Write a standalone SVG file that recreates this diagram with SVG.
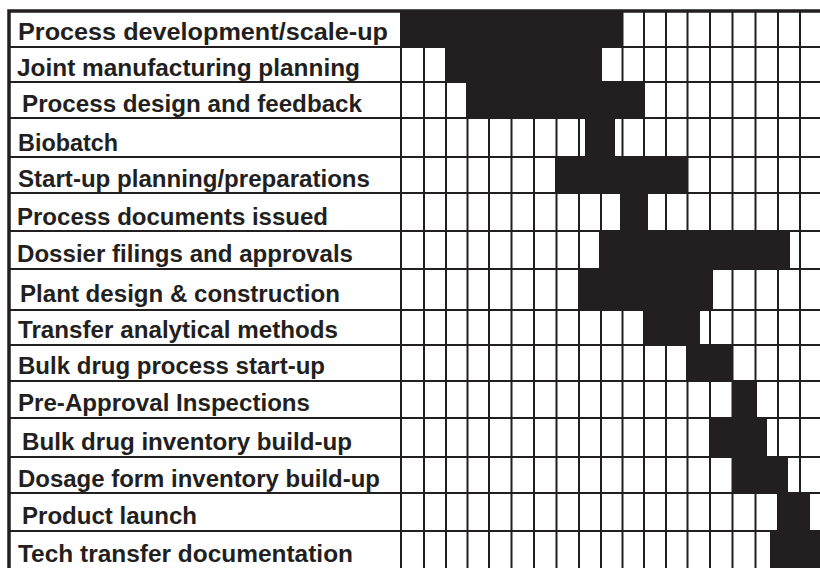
<svg xmlns="http://www.w3.org/2000/svg" width="820" height="568" viewBox="0 0 820 568">
<style>
.lbl{font-family:"Liberation Sans",Arial,sans-serif;font-weight:bold;font-size:23.5px;fill:#231f20}
.bar{fill:#231f20}
.g{stroke:#231f20;stroke-width:2;fill:none}
.b{stroke:#231f20;stroke-width:3.5;fill:none}
</style>
<rect width="820" height="568" fill="#ffffff"/>
<g id="grid">
<path class="g" d="M10 47H820M10 82H820M10 118H820M10 157H820M10 193H820M10 231H820M10 269H820M10 310H820M10 345H820M10 381H820M10 418H820M10 457H820M10 493H820M10 531H820"/>
<path class="g" d="M401 11V568M424 11V568M446 11V568M467.5 11V568M489 11V568M511.5 11V568M534 11V568M556.5 11V568M579 11V568M601 11V568M622.5 11V568M644 11V568M666 11V568M687.5 11V568M710 11V568M732.5 11V568M755.5 11V568M778 11V568M800 11V568"/>
<path class="b" d="M9 568V11H820"/>
</g>
<g id="row1"><rect class="bar" x="401" y="11" width="221" height="36"/><text class="lbl" x="18" y="40" textLength="370" lengthAdjust="spacingAndGlyphs">Process development/scale-up</text></g>
<g id="row2"><rect class="bar" x="445" y="47" width="157" height="35"/><text class="lbl" x="17" y="76" textLength="343" lengthAdjust="spacingAndGlyphs">Joint manufacturing planning</text></g>
<g id="row3"><rect class="bar" x="466" y="82" width="178" height="36"/><text class="lbl" x="22" y="112" textLength="340" lengthAdjust="spacingAndGlyphs">Process design and feedback</text></g>
<g id="row4"><rect class="bar" x="585" y="118" width="30" height="39"/><text class="lbl" x="18" y="151" textLength="100" lengthAdjust="spacingAndGlyphs">Biobatch</text></g>
<g id="row5"><rect class="bar" x="555" y="157" width="132" height="36"/><text class="lbl" x="18" y="187" textLength="352" lengthAdjust="spacingAndGlyphs">Start-up planning/preparations</text></g>
<g id="row6"><rect class="bar" x="620" y="193" width="28" height="38"/><text class="lbl" x="17" y="225" textLength="311" lengthAdjust="spacingAndGlyphs">Process documents issued</text></g>
<g id="row7"><rect class="bar" x="599" y="231" width="191" height="38"/><text class="lbl" x="17" y="262" textLength="336" lengthAdjust="spacingAndGlyphs">Dossier filings and approvals</text></g>
<g id="row8"><rect class="bar" x="578" y="269" width="135" height="41"/><text class="lbl" x="20" y="302" textLength="320" lengthAdjust="spacingAndGlyphs">Plant design &amp; construction</text></g>
<g id="row9"><rect class="bar" x="643" y="310" width="57" height="35"/><text class="lbl" x="18" y="338" textLength="320" lengthAdjust="spacingAndGlyphs">Transfer analytical methods</text></g>
<g id="row10"><rect class="bar" x="686" y="345" width="46" height="36"/><text class="lbl" x="18" y="374" textLength="307" lengthAdjust="spacingAndGlyphs">Bulk drug process start-up</text></g>
<g id="row11"><rect class="bar" x="732" y="381" width="25" height="37"/><text class="lbl" x="18" y="411" textLength="292" lengthAdjust="spacingAndGlyphs">Pre-Approval Inspections</text></g>
<g id="row12"><rect class="bar" x="709" y="418" width="58" height="39"/><text class="lbl" x="22" y="450" textLength="330" lengthAdjust="spacingAndGlyphs">Bulk drug inventory build-up</text></g>
<g id="row13"><rect class="bar" x="732" y="457" width="56" height="36"/><text class="lbl" x="18" y="487" textLength="362" lengthAdjust="spacingAndGlyphs">Dosage form inventory build-up</text></g>
<g id="row14"><rect class="bar" x="778" y="493" width="32" height="38"/><text class="lbl" x="22" y="524" textLength="175" lengthAdjust="spacingAndGlyphs">Product launch</text></g>
<g id="row15"><rect class="bar" x="770" y="531" width="50" height="37"/><text class="lbl" x="18" y="562" textLength="335" lengthAdjust="spacingAndGlyphs">Tech transfer documentation</text></g>
</svg>
